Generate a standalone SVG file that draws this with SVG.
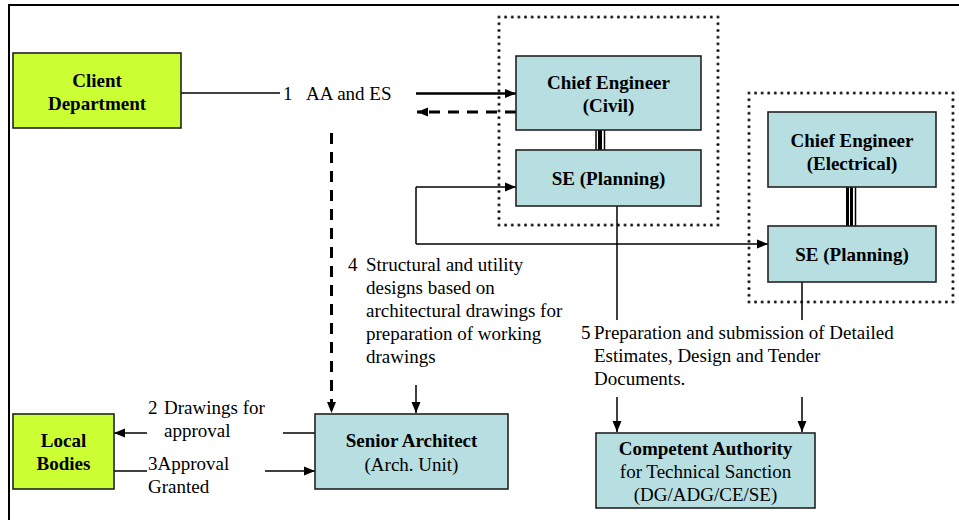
<svg xmlns="http://www.w3.org/2000/svg" width="959" height="520" viewBox="0 0 959 520" font-family="'Liberation Serif', 'Times New Roman', serif">
  <style>
    text { font-family: 'Liberation Serif', 'Times New Roman', serif; font-size: 19px; fill: #000; }
    .b { font-weight: bold; }
    .c { text-anchor: middle; }
    .green { fill: #ccff33; stroke: #222; stroke-width: 1.6; }
    .blue { fill: #b7dee1; stroke: #222; stroke-width: 1.6; }
    .ln { fill: none; stroke: #000; stroke-width: 1.5; }
    .thick { fill: none; stroke: #000; stroke-width: 2.5; }
    .dash { fill: none; stroke: #000; stroke-width: 3; stroke-dasharray: 11 8; }
    .arr { marker-end: url(#head); }
  </style>
  <defs>
    <marker id="head" markerUnits="userSpaceOnUse" markerWidth="12" markerHeight="10" refX="11" refY="5" orient="auto">
      <path d="M0,0.5 L11,5 L0,9.5 z" fill="#000"/>
    </marker>
    <!-- round dot tiles for the dotted group outlines, one per frame so dots line up with its corners -->
    <pattern id="dotsCivil" patternUnits="userSpaceOnUse" x="495.68" y="13.645" width="6.636" height="6.71">
      <circle cx="3.318" cy="3.355" r="1.45" fill="#000"/>
    </pattern>
    <pattern id="dotsElec" patternUnits="userSpaceOnUse" x="745.71" y="89.63" width="6.58" height="6.74">
      <circle cx="3.29" cy="3.37" r="1.45" fill="#000"/>
    </pattern>
  </defs>

  <rect width="959" height="520" fill="#fff"/>
  <!-- page frame (top and left edges) -->
  <path d="M9,520 V5 H959" fill="none" stroke="#000" stroke-width="2"/>

  <!-- dotted groupings: a ring of dot tiles -->
  <path id="civil-group" fill="url(#dotsCivil)" fill-rule="evenodd"
        d="M495.68,13.645 H721.32 V228.355 H495.68 Z M502.316,20.355 V221.645 H714.684 V20.355 Z"/>
  <path id="electrical-group" fill="url(#dotsElec)" fill-rule="evenodd"
        d="M745.71,89.63 H956.29 V305.37 H745.71 Z M752.29,96.37 V298.63 H949.71 V96.37 Z"/>

  <g id="connectors">
    <!-- 1 AA and ES -->
    <path class="ln" d="M181,93 H280" stroke-width="2"/>
    <path class="thick arr" d="M416,93.5 H516"/>
    <path class="dash arr" d="M516,112 H417" stroke-width="2.5"/>
    <path class="dash arr" d="M331.5,133 V413"/>
    <!-- CE to SE links -->
    <path d="M596,130 V150 M604.5,130 V150" stroke="#000" stroke-width="1.5"/>
    <path d="M600,130 V150" stroke="#000" stroke-width="4"/>
    <path d="M847.5,187 V226 M851.5,187 V226" stroke="#000" stroke-width="3"/>
    <path d="M855.5,187 V226" stroke="#000" stroke-width="1.5"/>
    <!-- 4 structural and utility designs -->
    <path class="ln" d="M416,244 V187"/>
    <path class="ln arr" d="M416,187 H516"/>
    <path class="ln arr" d="M416,244 H768"/>
    <path class="ln arr" d="M416,385 V413"/>
    <!-- 5 estimates -->
    <path class="ln" d="M617,206 V320"/>
    <path class="ln" d="M802,282 V320"/>
    <path class="ln arr" d="M617,397 V432"/>
    <path class="ln arr" d="M802,397 V432"/>
    <!-- 2 drawings for approval -->
    <path class="ln" d="M283,433 H315"/>
    <path class="ln arr" d="M147,433 H114"/>
    <!-- 3 approval granted -->
    <path class="ln" d="M114,471 H147"/>
    <path class="ln arr" d="M265,471 H315"/>
  </g>

  <g id="client-department">
    <rect class="green" x="13" y="53" width="168" height="75"/>
    <text class="b c" x="97" y="87">Client</text>
    <text class="b c" x="97" y="110">Department</text>
  </g>

  <g id="ce-civil">
    <rect class="blue" x="516" y="56" width="185" height="74"/>
    <text class="b c" x="608.5" y="89">Chief Engineer</text>
    <text class="b c" x="608.5" y="112">(Civil)</text>
  </g>

  <g id="se-planning-civil">
    <rect class="blue" x="516" y="150" width="185" height="56"/>
    <text class="b c" x="608.5" y="185">SE (Planning)</text>
  </g>

  <g id="ce-electrical">
    <rect class="blue" x="768" y="112" width="168" height="75"/>
    <text class="b c" x="852" y="147">Chief Engineer</text>
    <text class="b c" x="852" y="170">(Electrical)</text>
  </g>

  <g id="se-planning-electrical">
    <rect class="blue" x="768" y="226" width="168" height="56"/>
    <text class="b c" x="852" y="261">SE (Planning)</text>
  </g>

  <g id="local-bodies">
    <rect class="green" x="13" y="414" width="101" height="75"/>
    <text class="b c" x="63.5" y="447">Local</text>
    <text class="b c" x="63.5" y="470">Bodies</text>
  </g>

  <g id="senior-architect">
    <rect class="blue" x="315" y="414" width="193" height="75"/>
    <text class="b c" x="411.5" y="447">Senior Architect</text>
    <text class="c" x="411.5" y="471">(Arch. Unit)</text>
  </g>

  <g id="competent-authority">
    <rect class="blue" x="596" y="433" width="219" height="75"/>
    <text class="b c" x="705.5" y="455">Competent Authority</text>
    <text class="c" x="705.5" y="478">for Technical Sanction</text>
    <text class="c" x="705.5" y="501">(DG/ADG/CE/SE)</text>
  </g>

  <g id="labels">
    <text x="283" y="100">1</text>
    <text x="306" y="100">AA and ES</text>

    <text x="148" y="414">2</text>
    <text x="164" y="414">Drawings for</text>
    <text x="164" y="437">approval</text>

    <text x="148" y="470">3Approval</text>
    <text x="148" y="493">Granted</text>

    <text x="348" y="271">4</text>
    <text x="366" y="271">Structural and utility</text>
    <text x="366" y="294">designs based on</text>
    <text x="366" y="317">architectural drawings for</text>
    <text x="366" y="340">preparation of working</text>
    <text x="366" y="363">drawings</text>

    <text x="581" y="339">5</text>
    <text x="594" y="339">Preparation and submission of Detailed</text>
    <text x="594" y="362">Estimates, Design and Tender</text>
    <text x="594" y="385">Documents.</text>
  </g>
</svg>
